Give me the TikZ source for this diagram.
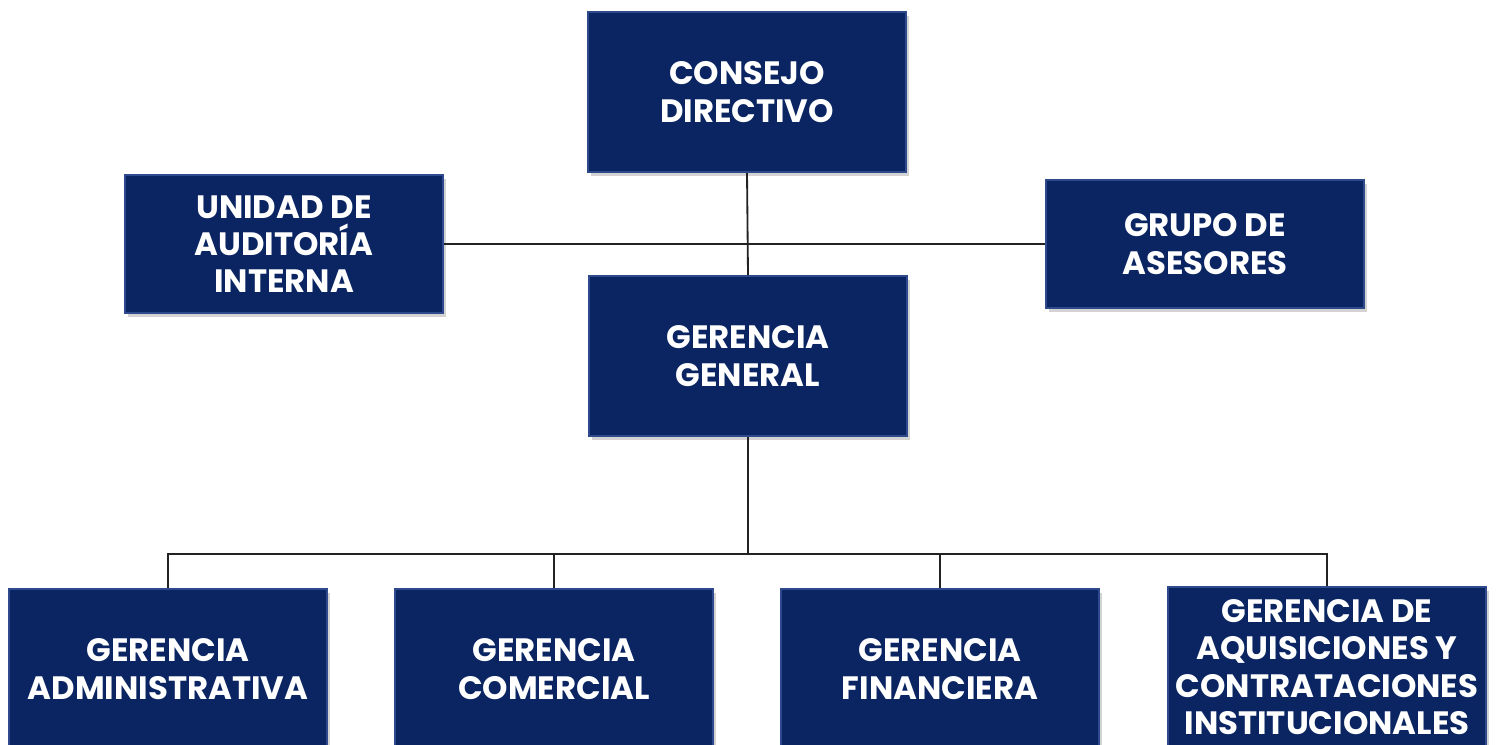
\documentclass[tikz,border=0pt]{standalone}
\usepackage{fontspec}
\setmainfont{Poppins}
\usetikzlibrary{positioning, shadows}

\definecolor{boxblue}{HTML}{0A2562}
\definecolor{boxedge}{HTML}{2E4A8C}
\definecolor{linegray}{HTML}{222222}

\tikzset{
    unit/.style={rectangle, fill=boxblue, draw=boxedge, line width=1.2pt, text=white,
        font=\fontsize{23}{26.5}\selectfont\bfseries, align=center,
        minimum width=7.95cm, inner sep=0pt,
        drop shadow={shadow xshift=2pt, shadow yshift=-3pt, opacity=0.35}},
    link/.style={draw=linegray, line width=1.3pt}
}

\begin{document}
\begin{tikzpicture}[x=0.025cm, y=-0.025cm]
    \useasboundingbox (0,0) rectangle (1496,744);

    \node[unit, minimum height=4cm] at (747, 92) (consejo) {CONSEJO\\DIRECTIVO};
    \node[unit, minimum height=3.45cm] at (284, 244) (auditoria) {UNIDAD DE\\AUDITORÍA\\INTERNA};
    \node[unit, minimum height=3.2cm] at (1205, 244) (asesores) {GRUPO DE\\ASESORES};
    \node[unit, minimum height=4cm] at (748, 356) (general) {GERENCIA\\GENERAL};

    \node[unit, minimum height=4cm] at (168, 669) (admin) {GERENCIA\\ADMINISTRATIVA};
    \node[unit, minimum height=4cm] at (554, 669) (comercial) {GERENCIA\\COMERCIAL};
    \node[unit, minimum height=4cm] at (940, 669) (financiera) {GERENCIA\\FINANCIERA};
    \node[unit, minimum height=4cm] at (1327, 667) (aquisiciones) {GERENCIA DE\\AQUISICIONES Y\\CONTRATACIONES\\INSTITUCIONALES};

    % staff units
    \draw[link] (consejo.south) -- (general.north);
    \draw[link] (auditoria.east) -- (asesores.west);

    % managers below
    \coordinate (split) at (748, 554);
    \draw[link] (general.south) -- (split);
    \draw[link] (admin.north) -- (admin.north |- split) -- (aquisiciones.north |- split) -- (aquisiciones.north);
    \foreach \n in {comercial, financiera} {
        \draw[link] (\n.north) -- (\n.north |- split);
    };
\end{tikzpicture}
\end{document}
